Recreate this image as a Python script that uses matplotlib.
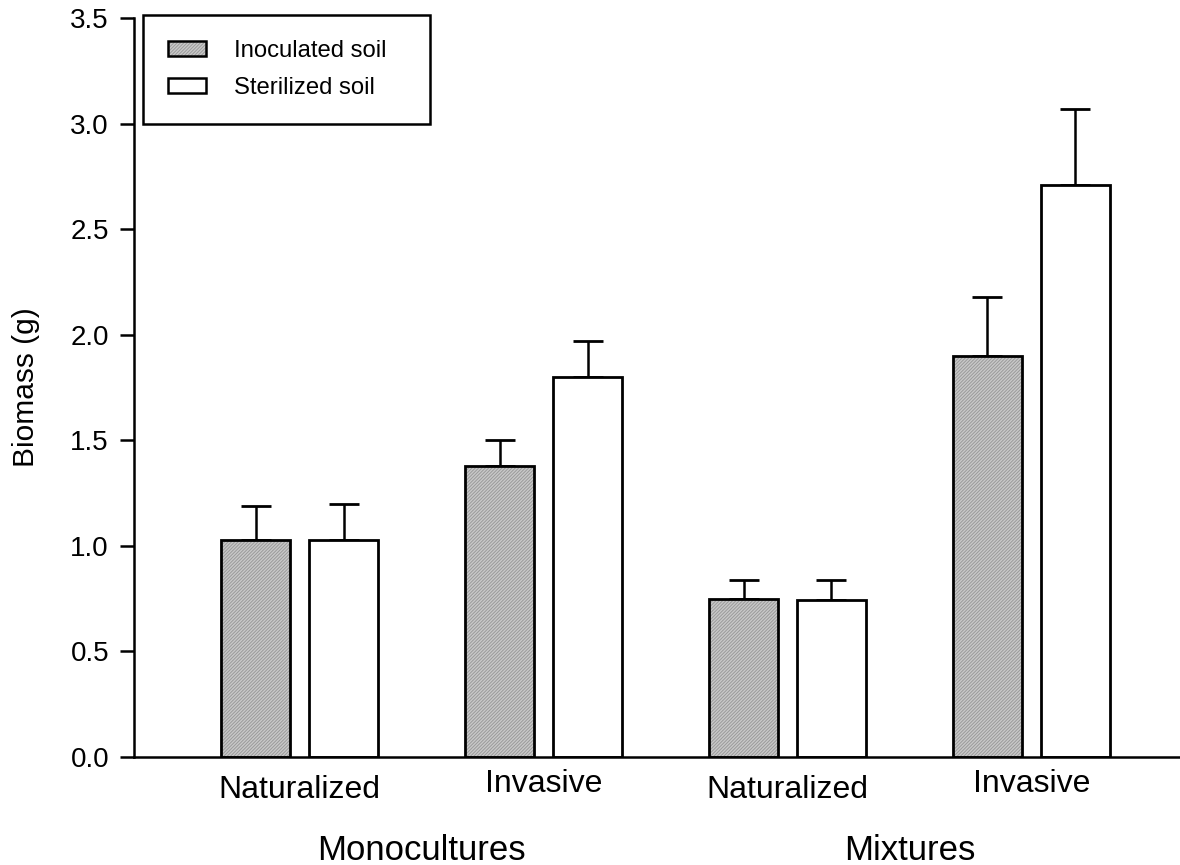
import matplotlib
matplotlib.use("Agg")
import matplotlib.pyplot as plt
import numpy as np
from matplotlib.transforms import blended_transform_factory
from matplotlib.patches import Patch
from matplotlib.legend_handler import HandlerTuple

plt.rcParams['hatch.linewidth'] = 0.7

species = ["Naturalized", "Invasive", "Naturalized", "Invasive"]
groups = ["Monocultures", "Mixtures"]
inoculated = [1.03, 1.38, 0.75, 1.90]
inoculated_err = [0.16, 0.12, 0.09, 0.28]
sterilized = [1.03, 1.80, 0.745, 2.71]
sterilized_err = [0.17, 0.17, 0.095, 0.36]
yticks = [0.0, 0.5, 1.0, 1.5, 2.0, 2.5, 3.0, 3.5]

FILL = '#c9c9c9'
HATCH_C = '#9a9a9a'

fig = plt.figure(figsize=(11.8, 8.65), dpi=100)
ax = fig.add_axes([134/1180, 1-757/865, 1-134/1180, (757-18)/865])

x = np.arange(len(species))
w = 0.283
off = 0.18
# hatched fill
ax.bar(x - off, inoculated, w, facecolor=FILL, edgecolor=HATCH_C, linewidth=0,
       hatch='//////////', zorder=2)
# outline
ax.bar(x - off, inoculated, w, facecolor='none', edgecolor='black', linewidth=2, zorder=3)
ax.bar(x + off, sterilized, w, facecolor='white', edgecolor='black', linewidth=2, zorder=2)

ax.errorbar(x - off, inoculated, yerr=[np.zeros(4), inoculated_err], fmt='none',
            ecolor='black', elinewidth=1.8, capsize=11, capthick=2, zorder=1)
ax.errorbar(x + off, sterilized, yerr=[np.zeros(4), sterilized_err], fmt='none',
            ecolor='black', elinewidth=1.8, capsize=11, capthick=2, zorder=1)

ax.set_xlim(-0.68, 3.61)
ax.set_ylim(0, 3.5)
ax.set_yticks(yticks)
ax.set_yticklabels([f"{v:.1f}" for v in yticks], fontfamily='Liberation Sans', fontsize=20)
ax.set_xticks([])
ax.spines['top'].set_visible(False)
ax.spines['right'].set_visible(False)
ax.spines['left'].set_linewidth(1.8)
ax.spines['bottom'].set_linewidth(1.8)
ax.tick_params(axis='y', direction='out', length=10, width=1.8, pad=8)
ax.set_ylabel("Biomass (g)", fontfamily='Liberation Sans', fontsize=21.5, labelpad=22)

tr = blended_transform_factory(ax.transData, fig.transFigure)
for i, s in enumerate(species):
    yy = 1 - (790 if s == "Naturalized" else 784) / 865
    ax.text(i, yy, s, transform=tr, ha='center', va='center',
            fontfamily='Liberation Sans', fontsize=23, clip_on=False)
for g, xs in zip(groups, [(0, 1), (2, 3)]):
    ax.text(np.mean(xs), 1 - 850/865, g, transform=tr, ha='center', va='center',
            fontfamily='Liberation Sans', fontsize=25, clip_on=False)

h_inoc = (Patch(facecolor=FILL, edgecolor=HATCH_C, linewidth=0, hatch='//////////'),
          Patch(facecolor='none', edgecolor='black', linewidth=1.8))
h_ster = Patch(facecolor='white', edgecolor='black', linewidth=1.8)
leg = ax.legend([h_inoc, h_ster], ["Inoculated soil", "Sterilized soil"],
                handler_map={tuple: HandlerTuple(ndivide=1, pad=0)},
                loc='upper left', mode='expand',
                bbox_to_anchor=(143/1180, 1-120/865, (430-143)/1180, 105/865),
                bbox_transform=fig.transFigure, borderaxespad=0,
                prop={'family': 'Liberation Sans', 'size': 17.2},
                handlelength=1.6, handleheight=0.55, handletextpad=1.15,
                borderpad=1.05, labelspacing=0.62, fancybox=False,
                edgecolor='black', framealpha=1)
leg.get_frame().set_linewidth(1.8)

fig.savefig("out.png", dpi=100)
